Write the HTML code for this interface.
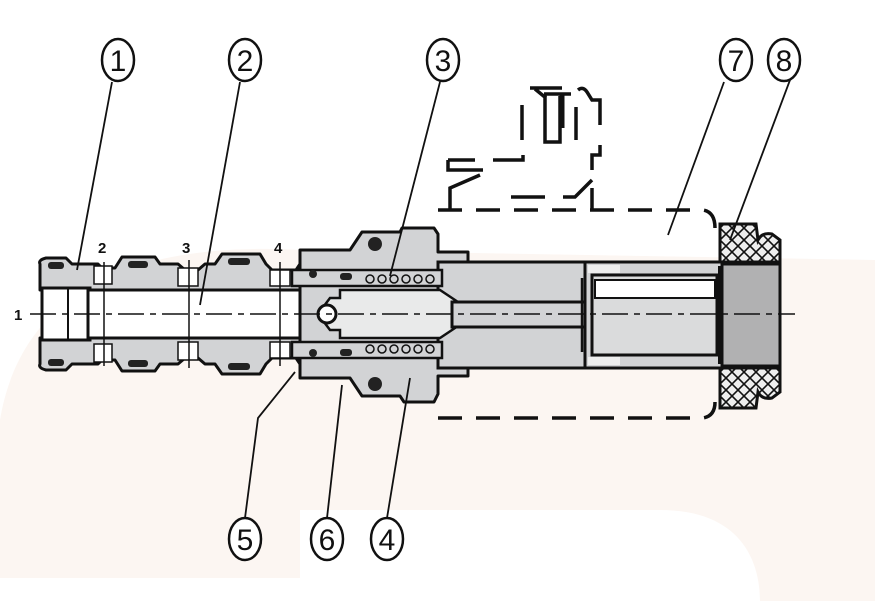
<!DOCTYPE html>
<html><head><meta charset="utf-8"><style>
html,body{margin:0;padding:0;background:#fff;width:875px;height:601px;overflow:hidden}
svg{display:block}
text{font-family:"Liberation Sans",sans-serif}
</style></head><body>
<svg width="875" height="601" viewBox="0 0 875 601" xmlns="http://www.w3.org/2000/svg">
<defs>
<pattern id="hatch" width="12" height="12" patternUnits="userSpaceOnUse">
<rect width="12" height="12" fill="#eeeeee"/>
<path d="M0 0L12 12M12 0L0 12" stroke="#111" stroke-width="1.6"/>
</pattern>
</defs>
<!-- watermark -->
<path d="M0 578 L0 420 C20 300 120 240 300 250 L875 260 L875 601 L760 601 C760 560 740 510 660 510 L300 510 L300 578 Z" fill="#fcf6f2"/>

<!-- dashed box -->
<g fill="none" stroke="#111" stroke-width="3.5" stroke-dasharray="24,14">
<path d="M438 210 L703 210 Q715 212 715 228"/>
<path d="M438 418 L703 418 Q715 416 715 402"/>
</g>
<!-- electrical symbol -->
<g fill="none" stroke="#111" stroke-width="3.5">
<path d="M530 88 L562 88 M535 89 L546 98 M544 94 L571 94 M545 95 L545 142 L560 142 L560 96 M522 105 L522 140 M576 107 L576 140 M578 90 Q583 86 587 92 L592 100 L600 100 L600 125 M600 145 L600 155 L592 155 L592 170"/>
<path d="M448 160 L475 160 M448 160 L448 170 L483 170 M493 160 L523 160 L523 155 M480 175 L450 188 L450 210 M511 197 L545 197 M563 197 L575 197 L592 180 M592 188 L592 210"/>
<path d="M562 94 L562 128" stroke-width="5"/>
</g>

<!-- main body left tube -->
<g stroke="#111" stroke-width="3" fill="#d2d3d5" stroke-linejoin="round">
<path d="M40 264 Q38 260 46 258 L66 258 L72 264 L98 264 L102 268 L115 268 L122 257 L155 257 L160 264 L178 264 L185 270 L198 270 L205 264 L215 264 L222 254 L260 254 L266 264 L272 270 L296 270 L300 264 L300 290 L40 290 Z"/>
<path d="M40 364 Q38 368 46 370 L66 370 L72 364 L98 364 L102 360 L115 360 L122 371 L155 371 L160 364 L178 364 L185 358 L198 358 L205 364 L215 364 L222 374 L260 374 L266 364 L272 358 L296 358 L300 364 L300 338 L40 338 Z"/>
</g>
<!-- white windows in tube -->
<g fill="#fff" stroke="#111" stroke-width="1.5">
<rect x="94" y="266" width="18" height="18"/><rect x="94" y="344" width="18" height="18"/>
<rect x="178" y="268" width="20" height="18"/><rect x="178" y="342" width="20" height="18"/>
<rect x="270" y="270" width="20" height="16"/><rect x="270" y="342" width="20" height="16"/>
</g>
<!-- o-rings -->
<g fill="#222">
<rect x="48" y="262" width="16" height="7" rx="3"/><rect x="48" y="359" width="16" height="7" rx="3"/>
<rect x="128" y="261" width="20" height="7" rx="3"/><rect x="128" y="360" width="20" height="7" rx="3"/>
<rect x="228" y="258" width="22" height="7" rx="3"/><rect x="228" y="363" width="22" height="7" rx="3"/>
</g>
<!-- left cap bore -->
<rect x="42" y="288" width="48" height="52" fill="#fff" stroke="#111" stroke-width="3"/>
<line x1="68" y1="288" x2="68" y2="340" stroke="#111" stroke-width="2"/>
<!-- main bore -->
<rect x="88" y="290" width="250" height="48" fill="#fff" stroke="#111" stroke-width="3"/>

<!-- nut (part 4) -->
<path d="M300 250 L350 250 L362 232 L400 232 L402 228 L434 228 L438 234 L438 252 L468 252 L468 262 L438 262 L438 366 L468 366 L468 376 L438 376 L438 394 L434 402 L404 402 L400 396 L362 396 L350 378 L300 378 Z" fill="#d2d3d5" stroke="#111" stroke-width="3" stroke-linejoin="round"/>
<circle cx="375" cy="244" r="7" fill="#222"/><circle cx="375" cy="384" r="7" fill="#222"/>
<!-- body middle -->
<rect x="438" y="262" width="152" height="106" fill="#d2d3d5" stroke="#111" stroke-width="3"/>
<!-- spool sleeve -->
<rect x="292" y="270" width="150" height="16" fill="#d2d3d5" stroke="#111" stroke-width="2.5"/>
<rect x="292" y="342" width="150" height="16" fill="#d2d3d5" stroke="#111" stroke-width="2.5"/>
<g fill="#222"><circle cx="313" cy="274" r="4"/><circle cx="313" cy="353" r="4"/><rect x="340" y="273" width="12" height="7" rx="3"/><rect x="340" y="349" width="12" height="7" rx="3"/></g>
<!-- spring coils -->
<g fill="none" stroke="#111" stroke-width="1.5">
<circle cx="370" cy="279" r="4"/><circle cx="382" cy="279" r="4"/><circle cx="394" cy="279" r="4"/><circle cx="406" cy="279" r="4"/><circle cx="418" cy="279" r="4"/><circle cx="430" cy="279" r="4"/>
<circle cx="370" cy="349" r="4"/><circle cx="382" cy="349" r="4"/><circle cx="394" cy="349" r="4"/><circle cx="406" cy="349" r="4"/><circle cx="418" cy="349" r="4"/><circle cx="430" cy="349" r="4"/>
</g>
<!-- poppet -->
<path d="M340 290 L440 290 L458 302 L458 326 L440 338 L340 338 L340 330 L330 330 L318 314 L330 298 L340 298 Z" fill="#e9eaea" stroke="#111" stroke-width="2.5"/>
<circle cx="327" cy="314" r="9" fill="#fff" stroke="#111" stroke-width="3"/>
<!-- rod -->
<rect x="452" y="302" width="145" height="25" fill="#d2d3d5" stroke="#111" stroke-width="3"/>
<!-- solenoid right section -->
<rect x="585" y="262" width="140" height="106" fill="#d2d3d5" stroke="#111" stroke-width="3"/>
<rect x="592" y="275" width="125" height="80" fill="#dadbdc" stroke="#111" stroke-width="3"/>
<rect x="595" y="280" width="120" height="18" fill="#fff" stroke="#111" stroke-width="2"/>
<rect x="588" y="265" width="32" height="8" fill="#eee" stroke="none"/>
<rect x="588" y="357" width="32" height="8" fill="#eee" stroke="none"/>
<line x1="582" y1="278" x2="582" y2="352" stroke="#111" stroke-width="2.5"/>
<!-- cap -->
<rect x="722" y="264" width="58" height="102" fill="#b1b1b2" stroke="#111" stroke-width="3"/>
<line x1="720" y1="266" x2="720" y2="364" stroke="#111" stroke-width="4"/>
<!-- seal 8 -->
<path d="M720 224 L756 224 L758 240 Q762 232 772 234 L780 240 L780 262 L720 262 Z" fill="url(#hatch)" stroke="#111" stroke-width="3"/>
<path d="M720 408 L756 408 L758 392 Q762 400 772 398 L780 392 L780 368 L720 368 Z" fill="url(#hatch)" stroke="#111" stroke-width="3"/>

<!-- axis -->
<line x1="30" y1="314" x2="795" y2="314" stroke="#111" stroke-width="1.5" stroke-dasharray="26,6,6,6"/>
<!-- section lines -->
<g stroke="#111" stroke-width="1.5">
<line x1="104" y1="262" x2="104" y2="366"/><line x1="189" y1="260" x2="189" y2="368"/><line x1="280" y1="262" x2="280" y2="366"/>
</g>
<g font-weight="bold" font-size="15" fill="#111">
<text x="14" y="320">1</text><text x="98" y="253">2</text><text x="182" y="253">3</text><text x="274" y="253">4</text>
</g>

<!-- leaders -->
<g stroke="#111" stroke-width="1.8" fill="none">
<path d="M112 82 L77 270"/><path d="M240 82 L200 305"/><path d="M440 82 L390 276"/>
<path d="M724 82 L668 235"/><path d="M790 80 L730 240"/>
<path d="M245 518 L258 418 L295 372"/><path d="M327 518 L342 385"/><path d="M387 518 L410 378"/>
</g>
<!-- circled numbers -->
<g fill="#fff" stroke="#111" stroke-width="2.5">
<ellipse cx="118" cy="60" rx="16" ry="21"/><ellipse cx="245" cy="60" rx="16" ry="21"/><ellipse cx="443" cy="60" rx="16" ry="21"/>
<ellipse cx="736" cy="60" rx="16" ry="21"/><ellipse cx="784" cy="60" rx="16" ry="21"/>
<ellipse cx="245" cy="539" rx="16" ry="21"/><ellipse cx="327" cy="539" rx="16" ry="21"/><ellipse cx="387" cy="539" rx="16" ry="21"/>
</g>
<g font-size="30" fill="#111" text-anchor="middle">
<text x="118" y="71">1</text><text x="245" y="71">2</text><text x="443" y="71">3</text><text x="736" y="71">7</text><text x="784" y="71">8</text>
<text x="245" y="550">5</text><text x="327" y="550">6</text><text x="387" y="550">4</text>
</g>
</svg>
</body></html>
